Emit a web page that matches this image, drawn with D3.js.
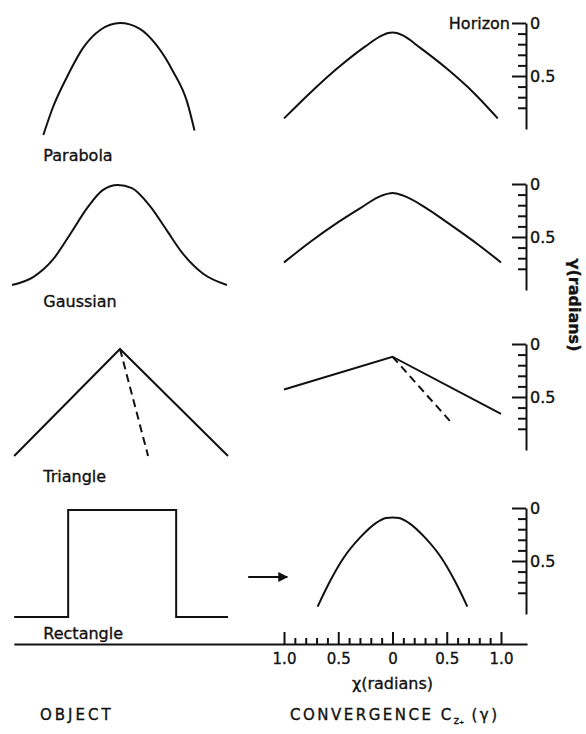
<!DOCTYPE html>
<html>
<head>
<meta charset="utf-8">
<script src="https://cdn.jsdelivr.net/npm/d3@7"></script>
<style>
  body { margin: 0; background: #fff; }
  svg { display: block; }
  text { font-family: "DejaVu Sans", sans-serif; fill: #111; stroke: #111; stroke-width: 0.35px; }
</style>
</head>
<body>
<div id="chart"></div>
<script>
// Object profiles: [x, relative intensity]
var parabolaObj = [[-0.71,0],[-0.62,0.25],[-0.49,0.52],[-0.34,0.78],[-0.18,0.94],[0,1],[0.18,0.95],[0.34,0.80],[0.49,0.57],[0.62,0.30],[0.69,0.04]];
var gaussianObj = [[-1.0,0.02],[-0.8,0.1],[-0.62,0.27],[-0.46,0.52],[-0.3,0.78],[-0.16,0.95],[-0.02,1],[0.11,0.97],[0.28,0.79],[0.43,0.56],[0.58,0.33],[0.77,0.13],[0.99,0.02]];
var triangleObj = [[-0.98,0],[0,1],[1.0,0]];
var triangleObjDash = [[0,1],[0.26,0]];
var rectangleObj = [[-0.98,0],[-0.48,0],[-0.48,1],[0.52,1],[0.52,0],[1.0,0]];

// Convergence curves: [chi (radians), gamma (radians)]
var parabolaConv = [[-1.0,0.9],[-0.75,0.65],[-0.5,0.42],[-0.25,0.22],[-0.1,0.12],[-0.04,0.095],[0,0.09],[0.04,0.095],[0.1,0.12],[0.25,0.23],[0.5,0.43],[0.75,0.66],[0.97,0.9]];
var gaussianConv = [[-1.0,0.74],[-0.75,0.54],[-0.5,0.36],[-0.3,0.23],[-0.1,0.11],[0,0.085],[0.1,0.11],[0.3,0.22],[0.5,0.36],[0.8,0.58],[1.0,0.74]];
var triangleConv = [[-1.0,0.43],[0,0.12],[1.0,0.66]];
var triangleConvDash = [[0,0.12],[0.55,0.75]];
var rectangleConv = [[-0.69,0.93],[-0.57,0.68],[-0.45,0.47],[-0.3,0.28],[-0.15,0.14],[-0.06,0.095],[0,0.09],[0.06,0.095],[0.15,0.14],[0.3,0.28],[0.45,0.47],[0.57,0.68],[0.69,0.93]];
var arrowConv = [[-1.33,0.65],[-0.97,0.65]];

var objectNames = ["Parabola", "Gaussian", "Triangle", "Rectangle"];
var chiTicks = [-1, -0.5, 0, 0.5, 1];
var chiTickLabels = ["1.0", "0.5", "0", "0.5", "1.0"];
var chiMinor = [-0.9,-0.8,-0.7,-0.6,-0.4,-0.3,-0.2,-0.1,0.1,0.2,0.3,0.4,0.6,0.7,0.8,0.9];
var gammaTicks = [0, 0.5];
var gammaTickLabels = ["0", "0.5"];
var gammaMinor = [0.1,0.2,0.3,0.4,0.6,0.7,0.8];

// Figure proportions:
var width = 586, height = 734;
var horizonY = [23, 184, 344, 508];
var gammaPx = 106;
var objTop = [23, 185, 349, 510];
var objBase = [135, 287, 456, 617];
var labelY = [161, 307, 482, 639];
var axisY = 644;

var svg = d3.select("#chart").append("svg")
  .attr("width", width)
  .attr("height", height)
;
svg.append("rect").attr("width", width).attr("height", height).attr("fill", "#fff");

var x = d3.scaleLinear().domain([-1, 1]).range([284, 501]);
var xObj = d3.scaleLinear().domain([-1, 1]).range([12, 228]);

var panels = [
  { obj: parabolaObj, conv: parabolaConv, curved: true },
  { obj: gaussianObj, conv: gaussianConv, curved: true },
  { obj: triangleObj, conv: triangleConv, objDash: triangleObjDash, convDash: triangleConvDash, curved: false },
  { obj: rectangleObj, conv: rectangleConv, curved: true, arrow: arrowConv }
];

panels.forEach(function(p, i) {
  var yObj = d3.scaleLinear().domain([0, 1]).range([objBase[i], objTop[i]]);
  var y = d3.scaleLinear().domain([0, 1]).range([horizonY[i], horizonY[i] + gammaPx]);

  var objLine = d3.line()
    .x(function(d) { return xObj(d[0]); })
    .y(function(d) { return yObj(d[1]); })
    .curve(i < 2 ? d3.curveMonotoneX : d3.curveLinear);
  var convLine = d3.line()
    .x(function(d) { return x(d[0]); })
    .y(function(d) { return y(d[1]); })
    .curve(p.curved ? d3.curveMonotoneX : d3.curveLinear);

  svg.append("path").attr("d", objLine(p.obj))
    .attr("fill", "none").attr("stroke", "#111").attr("stroke-width", 2);
  svg.append("path").attr("d", convLine(p.conv))
    .attr("fill", "none").attr("stroke", "#111").attr("stroke-width", 2);

  if (p.objDash) {
    svg.append("path").attr("d", objLine(p.objDash))
      .attr("fill", "none").attr("stroke", "#111").attr("stroke-width", 2)
      .attr("stroke-dasharray", "8,5");
    svg.append("path").attr("d", convLine(p.convDash))
      .attr("fill", "none").attr("stroke", "#111").attr("stroke-width", 2)
      .attr("stroke-dasharray", "8,5");
  }
  if (p.arrow) {
    svg.append("path").attr("d", convLine.curve(d3.curveLinear)(p.arrow))
      .attr("fill", "none").attr("stroke", "#111").attr("stroke-width", 2);
    var tip = p.arrow[1];
    svg.append("path")
      .attr("d", d3.line()([[x(tip[0]) - 9, y(tip[1]) - 5], [x(tip[0]) + 1, y(tip[1])], [x(tip[0]) - 9, y(tip[1]) + 5]]))
      .attr("fill", "#111");
  }

  svg.append("text")
    .attr("x", xObj(-0.71))
    .attr("y", labelY[i])
    .style("font-size", "16px")
    .text(objectNames[i]);

  // Gamma axis on the right, ticks pointing left
  var axisX = 526;
  var gMinor = svg.append("g").attr("transform", "translate(" + axisX + ",0)")
    .call(d3.axisRight(y).tickValues(gammaMinor).tickSize(-8).tickFormat(""));
  var gMajor = svg.append("g").attr("transform", "translate(" + axisX + ",0)")
    .call(d3.axisRight(y).tickValues(gammaTicks).tickSizeInner(-14).tickSizeOuter(0).tickPadding(4)
      .tickFormat(function(d, k) { return gammaTickLabels[k]; }));
  gMinor.select(".domain").remove();
  [gMinor, gMajor].forEach(function(g) {
    g.selectAll("line, path").attr("stroke", "#111").attr("stroke-width", 2);
  });
  gMajor.selectAll("text")
    .style("font-family", "DejaVu Sans, sans-serif")
    .style("font-size", "16px")
    .attr("fill", "#111");

  if (i === 0) {
    svg.append("text")
      .attr("x", axisX - 16)
      .attr("y", y(0) + 6)
      .attr("text-anchor", "end")
      .style("font-size", "16px")
      .text("Horizon");
  }
});

// Chi axis at the bottom, ticks pointing up
var xAxisScale = d3.scaleLinear().domain([-3.49, 1.24]).range([x(-3.49), x(1.24)]);
var gx = svg.append("g").attr("transform", "translate(0," + axisY + ")")
  .call(d3.axisBottom(xAxisScale).tickValues(chiTicks).tickSizeInner(-12).tickSizeOuter(0).tickPadding(9)
    .tickFormat(function(d, k) { return chiTickLabels[k]; }));
var gxMinor = svg.append("g").attr("transform", "translate(0," + axisY + ")")
  .call(d3.axisBottom(xAxisScale).tickValues(chiMinor).tickSize(-6).tickFormat(""));
gxMinor.select(".domain").remove();
[gx, gxMinor].forEach(function(g) {
  g.selectAll("line, path").attr("stroke", "#111").attr("stroke-width", 2);
});
gx.selectAll("text")
  .style("font-family", "DejaVu Sans, sans-serif")
  .style("font-size", "15px")
  .attr("fill", "#111");

svg.append("text")
  .attr("x", x(0))
  .attr("y", 689)
  .attr("text-anchor", "middle")
  .style("font-size", "16px")
  .text("χ(radians)");

svg.append("text")
  .attr("transform", "translate(569,305) rotate(90)")
  .attr("text-anchor", "middle")
  .style("font-size", "16px")
  .style("font-weight", "bold")
  .text("γ(radians)");

svg.append("text")
  .attr("x", 40)
  .attr("y", 720)
  .style("font-size", "15px")
  .style("letter-spacing", "3px")
  .text("OBJECT");

var conv = svg.append("text")
  .attr("x", 290)
  .attr("y", 720)
  .style("font-size", "15px")
  .style("letter-spacing", "2.5px");
conv.append("tspan").text("CONVERGENCE  C");
conv.append("tspan").attr("dy", 4).style("font-size", "10px").style("letter-spacing", "0px").text("z₊");
conv.append("tspan").attr("dy", -4).text(" (γ)");
</script>
</body>
</html>
